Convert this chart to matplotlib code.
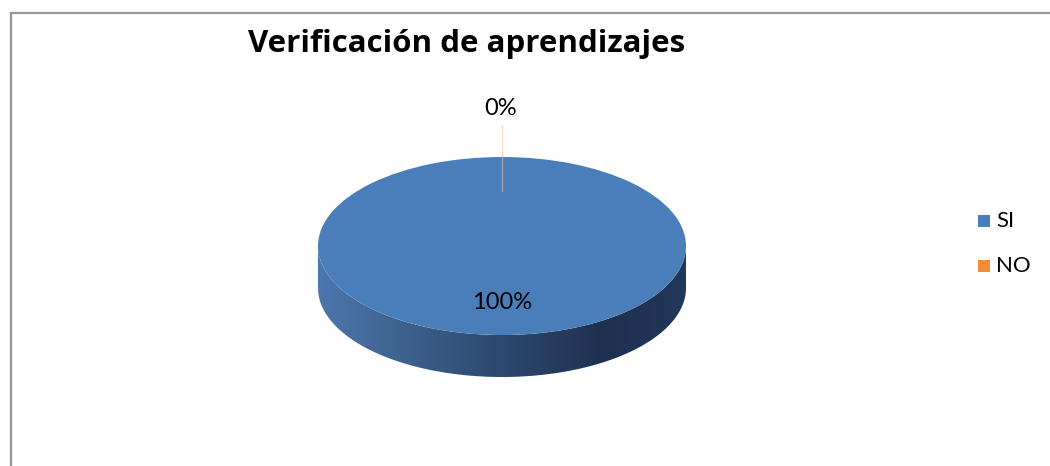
import matplotlib
matplotlib.use("Agg")
import matplotlib.pyplot as plt
import numpy as np
from matplotlib.patches import Wedge, Polygon, Rectangle
from matplotlib.transforms import Affine2D
from matplotlib.colors import LinearSegmentedColormap

# data
labels = ["SI", "NO"]
values = [100, 0]
colors = ["#4A7EBB", "#F08C3A"]
title = "Verificación de aprendizajes"

W, H = 1050, 466
fig = plt.figure(figsize=(W / 100, H / 100), dpi=100)
fig.patch.set_facecolor("white")
ax = fig.add_axes([0, 0, 1, 1])
ax.set_xlim(0, W)
ax.set_ylim(H, 0)
ax.axis("off")

plt.rcParams["font.family"] = ["Lato", "DejaVu Sans"]

# chart border (only top and left visible)
ax.plot([11, 11, W + 5], [H + 5, 13, 13], color="#969696", lw=1.6,
        solid_joinstyle="miter", zorder=1)

# pie geometry (pixels)
cx, cy = 502, 246
rx, ry = 184, 89
depth = 42
unit = Affine2D().scale(rx, -ry).translate(cx, cy) + ax.transData

total = float(sum(values))
fracs = [v / total for v in values]

# side of the disc with shading gradient
t = np.linspace(np.pi, 2 * np.pi, 200)
top_x = cx + rx * np.cos(t)
top_y = cy - ry * np.sin(t)
side = np.column_stack([np.r_[top_x, top_x[::-1]],
                        np.r_[top_y, top_y[::-1] + depth]])
side_patch = Polygon(side, closed=True, facecolor="none", edgecolor="none")
ax.add_patch(side_patch)
shade = LinearSegmentedColormap.from_list(
    "side", [(0, "#4C77AC"), (0.45, "#304C73"), (0.78, "#1E3050"),
             (1.0, "#22375A")])
grad = np.linspace(0, 1, 256).reshape(1, -1)
img = ax.imshow(grad, cmap=shade, aspect="auto",
                extent=(cx - rx, cx + rx, cy + ry + depth, cy - 2),
                zorder=2)
img.set_clip_path(side_patch)

# top face: slices clockwise from 12 o'clock
start = 90.0
mids = []
for frac, col in zip(fracs, colors):
    sweep = frac * 360.0
    if sweep > 0:
        w = Wedge((0, 0), 1, start - sweep, start, facecolor=col,
                  edgecolor="none", transform=unit, zorder=3)
        ax.add_patch(w)
    mids.append(np.deg2rad(start - sweep / 2))
    start -= sweep

# data labels
for frac, mid, col in zip(fracs, mids, colors):
    pct = f"{frac * 100:.0f}%"
    if frac > 0.05:
        lx = cx + 0.63 * rx * np.cos(mid)
        ly = cy - 0.63 * ry * np.sin(mid)
        ax.text(lx, ly, pct, fontsize=17, ha="center", va="center",
                color="black", zorder=5)
    else:
        ax.plot([cx + 0.62 * rx * np.cos(mid), cx + 1.36 * rx * np.cos(mid)],
                [cy - 0.62 * ry * np.sin(mid), cy - 1.36 * ry * np.sin(mid)],
                color="#F6B98A", alpha=0.55, lw=1, zorder=4)
        ax.text(cx + 1.55 * rx * np.cos(mid) - 1, cy - 1.55 * ry * np.sin(mid),
                pct, fontsize=17, ha="center", va="center",
                color="black", zorder=5)

# title
ax.text(467, 44, title, fontsize=22.5, fontweight="bold", ha="center",
        va="center", color="black", family=["Open Sans", "DejaVu Sans"],
        zorder=5)

# legend
for i, (lab, col) in enumerate(zip(labels, colors)):
    y = 221 + i * 45
    ax.add_patch(Rectangle((978, y - 6), 12, 12, facecolor=col,
                           edgecolor="none", zorder=5))
    ax.text(996, y, lab, fontsize=16, ha="left", va="center",
            color="black", zorder=5)

fig.savefig("out.png", dpi=100, facecolor="white")
